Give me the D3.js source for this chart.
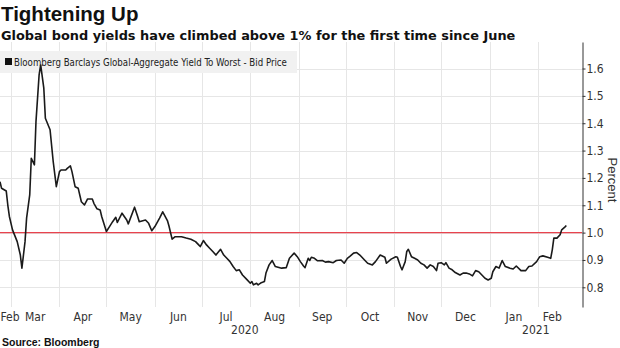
<!DOCTYPE html>
<html>
<head>
<meta charset="utf-8">
<script src="https://cdnjs.cloudflare.com/ajax/libs/d3/7.8.5/d3.min.js"></script>
<style>
    body { margin: 0; background: #fff; }
    svg { display: block; }
</style>
</head>
<body>
<script>
// yield to worst, percent
var dates = [
    '2020-02-23', '2020-02-24', '2020-02-27', '2020-02-28', '2020-02-29', '2020-03-02', '2020-03-05', '2020-03-07',
    '2020-03-08', '2020-03-10', '2020-03-11', '2020-03-13', '2020-03-14', '2020-03-16', '2020-03-17', '2020-03-19',
    '2020-03-20', '2020-03-22', '2020-03-23', '2020-03-26', '2020-03-28', '2020-03-30', '2020-04-01', '2020-04-02',
    '2020-04-05', '2020-04-06', '2020-04-08', '2020-04-09', '2020-04-11', '2020-04-13', '2020-04-15', '2020-04-17',
    '2020-04-19', '2020-04-22', '2020-04-23', '2020-04-25', '2020-04-27', '2020-04-28', '2020-05-01', '2020-05-03',
    '2020-05-05', '2020-05-07', '2020-05-08', '2020-05-11', '2020-05-14', '2020-05-15', '2020-05-19', '2020-05-21',
    '2020-05-22', '2020-05-26', '2020-05-28', '2020-05-30', '2020-06-01', '2020-06-04', '2020-06-06', '2020-06-09',
    '2020-06-10', '2020-06-12', '2020-06-14', '2020-06-18', '2020-06-21', '2020-06-24', '2020-06-27', '2020-06-29',
    '2020-06-30', '2020-07-02', '2020-07-04', '2020-07-06', '2020-07-08', '2020-07-10', '2020-07-13', '2020-07-15',
    '2020-07-17', '2020-07-19', '2020-07-21', '2020-07-23', '2020-07-25', '2020-07-27', '2020-07-30', '2020-08-01',
    '2020-08-02', '2020-08-03', '2020-08-05', '2020-08-06', '2020-08-08', '2020-08-10', '2020-08-11', '2020-08-13',
    '2020-08-15', '2020-08-17', '2020-08-21', '2020-08-24', '2020-08-26', '2020-08-29', '2020-08-31', '2020-09-02',
    '2020-09-04', '2020-09-05', '2020-09-07', '2020-09-08', '2020-09-09', '2020-09-11', '2020-09-13', '2020-09-16',
    '2020-09-18', '2020-09-20', '2020-09-23', '2020-09-25', '2020-09-28', '2020-09-30', '2020-10-02', '2020-10-04',
    '2020-10-06', '2020-10-08', '2020-10-10', '2020-10-13', '2020-10-15', '2020-10-18', '2020-10-20', '2020-10-23',
    '2020-10-26', '2020-10-27', '2020-10-30', '2020-11-02', '2020-11-03', '2020-11-05', '2020-11-06', '2020-11-08',
    '2020-11-09', '2020-11-10', '2020-11-12', '2020-11-14', '2020-11-16', '2020-11-18', '2020-11-20', '2020-11-22',
    '2020-11-24', '2020-11-26', '2020-11-28', '2020-11-29', '2020-12-01', '2020-12-03', '2020-12-04', '2020-12-06',
    '2020-12-08', '2020-12-10', '2020-12-13', '2020-12-15', '2020-12-17', '2020-12-19', '2020-12-21', '2020-12-23',
    '2020-12-25', '2020-12-27', '2020-12-29', '2020-12-31', '2021-01-02', '2021-01-03', '2021-01-05', '2021-01-07',
    '2021-01-09', '2021-01-11', '2021-01-14', '2021-01-16', '2021-01-18', '2021-01-21', '2021-01-24', '2021-01-26',
    '2021-01-28', '2021-01-31', '2021-02-02', '2021-02-04', '2021-02-07', '2021-02-09', '2021-02-10', '2021-02-11',
    '2021-02-13', '2021-02-15', '2021-02-16', '2021-02-18', '2021-02-19'
];
var yields = [
    1.186, 1.162, 1.152, 1.100, 1.059, 1.010, 0.967, 0.918,
    0.870, 0.967, 1.053, 1.138, 1.272, 1.248, 1.406, 1.577,
    1.613, 1.528, 1.418, 1.376, 1.260, 1.168, 1.223, 1.229,
    1.229, 1.235, 1.244, 1.223, 1.168, 1.162, 1.113, 1.101,
    1.123, 1.123, 1.107, 1.087, 1.083, 1.059, 1.004, 1.022,
    1.040, 1.056, 1.037, 1.071, 1.046, 1.032, 1.093, 1.059,
    1.040, 1.046, 1.034, 1.007, 1.022, 1.053, 1.076, 1.044,
    1.024, 0.976, 0.985, 0.985, 0.980, 0.976, 0.967, 0.955,
    0.949, 0.971, 0.955, 0.943, 0.931, 0.918, 0.939, 0.918,
    0.906, 0.894, 0.876, 0.861, 0.864, 0.845, 0.827, 0.815,
    0.821, 0.809, 0.815, 0.809, 0.817, 0.821, 0.852, 0.882,
    0.898, 0.876, 0.870, 0.872, 0.906, 0.925, 0.912, 0.894,
    0.878, 0.872, 0.906, 0.898, 0.910, 0.906, 0.897, 0.898,
    0.892, 0.894, 0.890, 0.898, 0.900, 0.888, 0.906, 0.915,
    0.925, 0.927, 0.918, 0.900, 0.888, 0.882, 0.894, 0.918,
    0.910, 0.888, 0.903, 0.912, 0.910, 0.876, 0.864, 0.894,
    0.931, 0.939, 0.912, 0.906, 0.900, 0.888, 0.882, 0.870,
    0.882, 0.876, 0.861, 0.888, 0.890, 0.882, 0.890, 0.870,
    0.864, 0.854, 0.845, 0.852, 0.852, 0.849, 0.842, 0.861,
    0.857, 0.845, 0.833, 0.827, 0.833, 0.857, 0.876, 0.870,
    0.898, 0.876, 0.870, 0.867, 0.878, 0.861, 0.861, 0.876,
    0.878, 0.894, 0.912, 0.915, 0.910, 0.906, 0.937, 0.980,
    0.980, 0.992, 1.010, 1.020, 1.026
];
var yTicks = [0.8, 0.9, 1.0, 1.1, 1.2, 1.3, 1.4, 1.5, 1.6];
var threshold = 1.0;
var seriesName = 'Bloomberg Barclays Global-Aggregate Yield To Worst - Bid Price';

var narrow = '"Liberation Sans Narrow", "Arial Narrow", "DejaVu Sans Condensed", sans-serif';
var bold = '"Liberation Sans", Arial, sans-serif';

var parse = d3.timeParse('%Y-%m-%d');
var data = dates.map(function (d, i) { return { date: parse(d), value: yields[i] }; });
var first = data[0].date, last = data[data.length - 1].date;
var end = parse('2021-03-01');

//scales
var xscale = d3.scaleTime().domain([first, end]).range([0, 582]);
var yscale = d3.scaleLinear().domain([0.728, 1.697]).range([307, 42]);

var svg = d3.select('body').append('svg')
    .attr('width', 620)
    .attr('height', 348);

//title + subtitle
svg.append('text')
    .attr('x', 1).attr('y', 21)
    .attr('font-family', bold).attr('font-weight', 'bold').attr('font-size', '20.5px')
    .attr('fill', '#111')
    .text('Tightening Up');
svg.append('text')
    .attr('x', 1).attr('y', 40)
    .attr('font-family', '"DejaVu Sans", Verdana, sans-serif').attr('font-weight', 'bold').attr('font-size', '12.9px')
    .attr('fill', '#111')
    .text('Global bond yields have climbed above 1% for the first time since June');

//grid
var grid = svg.append('g').attr('stroke', '#e6e6e6').attr('stroke-width', 1);
grid.selectAll('.hgrid')
    .data(yTicks)
    .enter().append('line')
        .attr('x1', 0).attr('x2', 582)
        .attr('y1', function (d) { return Math.round(yscale(d)) + 0.5; })
        .attr('y2', function (d) { return Math.round(yscale(d)) + 0.5; });
grid.selectAll('.vgrid')
    .data(d3.timeMonth.range(d3.timeMonth.ceil(first), end))
    .enter().append('line')
        .attr('x1', function (d) { return Math.round(xscale(d)) + 0.5; })
        .attr('x2', function (d) { return Math.round(xscale(d)) + 0.5; })
        .attr('y1', 42).attr('y2', 307);

//legend box
svg.append('rect')
    .attr('x', 0).attr('y', 51).attr('width', 297).attr('height', 22)
    .attr('fill', '#f1f1f1');
svg.append('rect')
    .attr('x', 5).attr('y', 58).attr('width', 7).attr('height', 7)
    .attr('fill', '#111');
svg.append('text')
    .attr('x', 14).attr('y', 65.5)
    .attr('font-family', narrow).attr('font-size', '9.6px')
    .attr('fill', '#222')
    .text(seriesName);

//1% reference line
svg.append('line')
    .attr('x1', 0).attr('x2', 582)
    .attr('y1', yscale(threshold)).attr('y2', yscale(threshold))
    .attr('stroke', '#e8434e').attr('stroke-width', 1.3);

//yield line
var line = d3.line()
    .x(function (d) { return xscale(d.date); })
    .y(function (d) { return yscale(d.value); });
svg.append('path')
    .datum(data)
    .attr('d', line)
    .attr('fill', 'none')
    .attr('stroke', '#1a1a1a')
    .attr('stroke-width', 1.6)
    .attr('stroke-linejoin', 'round');

//y axis on the right
var yaxis = d3.axisRight(yscale)
    .tickValues(yTicks)
    .tickFormat(d3.format('.1f'))
    .tickSize(3)
    .tickSizeOuter(0);
var ag = svg.append('g')
    .attr('transform', 'translate(582.5,0)')
    .call(yaxis);
ag.select('.domain').attr('stroke', '#333');
ag.selectAll('.tick line').attr('stroke', '#333');
ag.selectAll('.tick text')
    .attr('x', 4)
    .attr('font-family', narrow).attr('font-size', '12px')
    .attr('fill', '#333');

svg.append('text')
    .attr('transform', 'translate(608,180) rotate(90)')
    .attr('text-anchor', 'middle')
    .attr('font-family', '"Liberation Sans", Arial, sans-serif').attr('font-size', '13px')
    .attr('fill', '#333')
    .text('Percent');

//month labels, centred on the visible part of each month
var fmtMonth = d3.timeFormat('%b'), fmtYear = d3.timeFormat('%Y');
svg.selectAll('.month')
    .data(d3.timeMonth.range(d3.timeMonth.floor(first), last))
    .enter().append('text')
        .attr('x', function (d) {
            var a = d < first ? first : d;
            var b = d3.timeMonth.offset(d, 1);
            if (b > last) b = last;
            return Math.max(10, (xscale(a) + xscale(b)) / 2);
        })
        .attr('y', 321)
        .attr('text-anchor', 'middle')
        .attr('font-family', narrow).attr('font-size', '12px')
        .attr('fill', '#333')
        .text(fmtMonth);

//year labels
svg.selectAll('.year')
    .data(d3.timeYear.range(d3.timeYear.floor(first), end))
    .enter().append('text')
        .attr('x', function (d) {
            var a = d < first ? first : d;
            var b = d3.timeYear.offset(d, 1);
            if (b > end) b = end;
            return (xscale(a) + xscale(b)) / 2;
        })
        .attr('y', 334)
        .attr('text-anchor', 'middle')
        .attr('font-family', narrow).attr('font-size', '12px')
        .attr('fill', '#333')
        .text(fmtYear);

svg.append('text')
    .attr('x', 2).attr('y', 346)
    .attr('font-family', bold).attr('font-weight', 'bold').attr('font-size', '10.5px')
    .attr('fill', '#111')
    .text('Source: Bloomberg');
</script>
</body>
</html>
